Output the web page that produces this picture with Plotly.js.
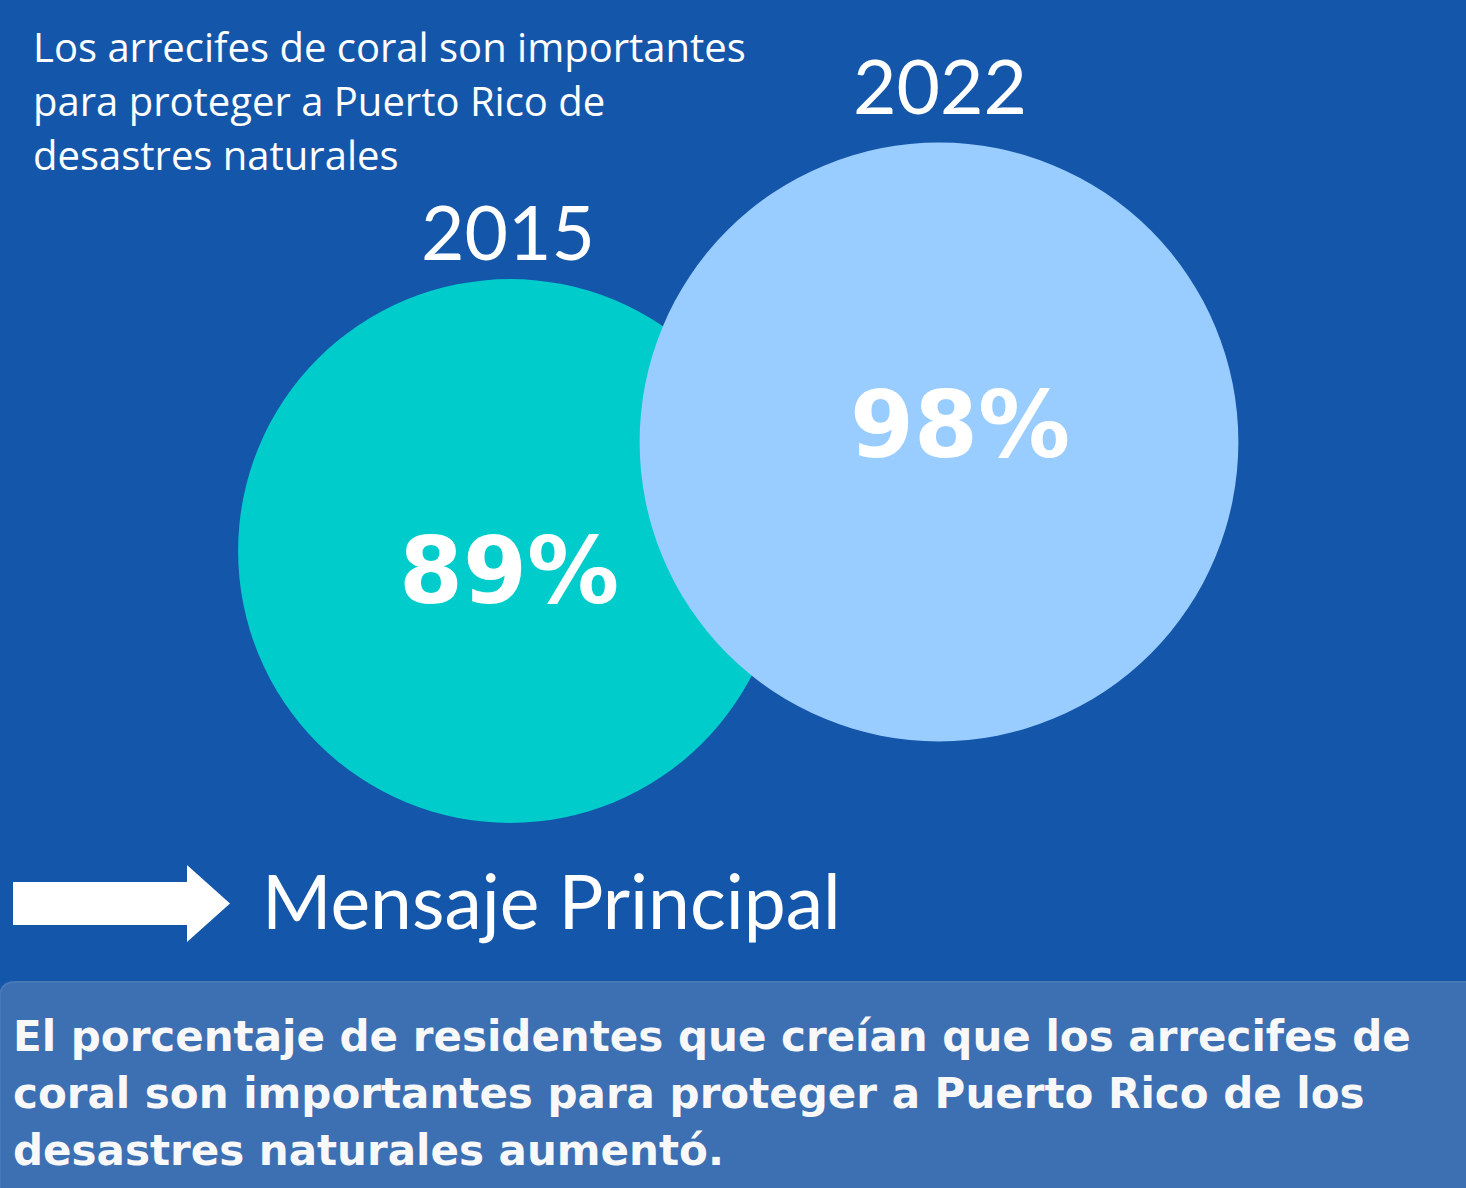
<!DOCTYPE html>
<html>
<head>
<meta charset="utf-8">
<script src="https://cdn.plot.ly/plotly-3.0.1.min.js"></script>
<style>html,body{margin:0;padding:0;background:#1456AA;}#chart{width:1466px;height:1188px;}</style>
</head>
<body>
<div id="chart"></div>
<script>
// ---- data ----
const years = ["2015", "2022"];
const percents = [89, 98];
const percentLabels = ["89%", "98%"];
const titleLines = ["Los arrecifes de coral son importantes", "para proteger a Puerto Rico de", "desastres naturales"];
const headline = "Mensaje Principal";
const messageLines = [
  "El porcentaje de residentes que creían que los arrecifes de",
  "coral son importantes para proteger a Puerto Rico de los",
  "desastres naturales aumentó."
];

// ---- layout constants (pixel space) ----
const W = 1466, H = 1188;
const centers = [[510, 551], [939, 442]];
const pxPerPoint = 3.055;
const circleColors = ["#00CCCC", "#99CCFF"];
const bg = "#1456AA";
const white = "#FFFFFF";

const shapes = [];
percents.forEach((v, i) => {
  const r = v * pxPerPoint;
  const [cx, cy] = centers[i];
  shapes.push({type: "circle", xref: "x", yref: "y", x0: cx - r, x1: cx + r, y0: cy - r, y1: cy + r,
    fillcolor: circleColors[i], line: {width: 0}, layer: "below"});
});
// arrow
shapes.push({type: "path", xref: "x", yref: "y",
  path: "M13,882 L187,882 L187,865 L230,903.5 L187,942 L187,925 L13,925 Z",
  fillcolor: white, line: {width: 0}});
// message box with rounded top-left corner
shapes.push({type: "path", xref: "x", yref: "y",
  path: "M0,997 Q0,982 15,982 L1470,982 L1470,1192 L0,1192 Z",
  fillcolor: "#3D6FB3", line: {color: "#4678BA", width: 2}, layer: "below"});

const annotations = [];
const titleFont = "'Open Sans', sans-serif";
const regFont = "Lato, 'Open Sans', sans-serif";
const boldFont = "'DejaVu Sans', sans-serif";
titleLines.forEach((t, i) => {
  annotations.push({xref: "x", yref: "y", x: 31, y: 46 + i * 54, text: t, showarrow: false,
    xanchor: "left", yanchor: "middle", font: {family: titleFont, size: 40, color: white}});
});
const yearPos = [[508, 231], [940, 85]];
years.forEach((t, i) => {
  annotations.push({xref: "x", yref: "y", x: yearPos[i][0], y: yearPos[i][1], text: t, showarrow: false,
    xanchor: "center", yanchor: "middle", font: {family: regFont, size: 75, color: white}});
});
const pctPos = [[509, 571], [960, 425]];
percentLabels.forEach((t, i) => {
  annotations.push({xref: "x", yref: "y", x: pctPos[i][0], y: pctPos[i][1], text: "<b>" + t + "</b>", showarrow: false,
    xanchor: "center", yanchor: "middle", font: {family: "'DejaVu Sans', sans-serif", size: 92, color: white}});
});
annotations.push({xref: "x", yref: "y", x: 260, y: 900, text: headline, showarrow: false,
  xanchor: "left", yanchor: "middle", font: {family: regFont, size: 75, color: white}});
messageLines.forEach((t, i) => {
  annotations.push({xref: "x", yref: "y", x: 11, y: 1036 + i * 57, text: "<b>" + t + "</b>", showarrow: false,
    xanchor: "left", yanchor: "middle", font: {family: boldFont, size: 42, color: "#F8F8F8"}});
});

const layout = {
  width: W, height: H,
  margin: {l: 0, r: 0, t: 0, b: 0},
  paper_bgcolor: bg, plot_bgcolor: bg,
  showlegend: false,
  xaxis: {range: [0, W], visible: false, fixedrange: true},
  yaxis: {range: [H, 0], visible: false, fixedrange: true},
  shapes: shapes,
  annotations: annotations
};
Plotly.newPlot("chart", [{x: [], y: [], type: "scatter", mode: "markers", hoverinfo: "skip"}], layout, {displayModeBar: false, staticPlot: true});
</script>
</body>
</html>
